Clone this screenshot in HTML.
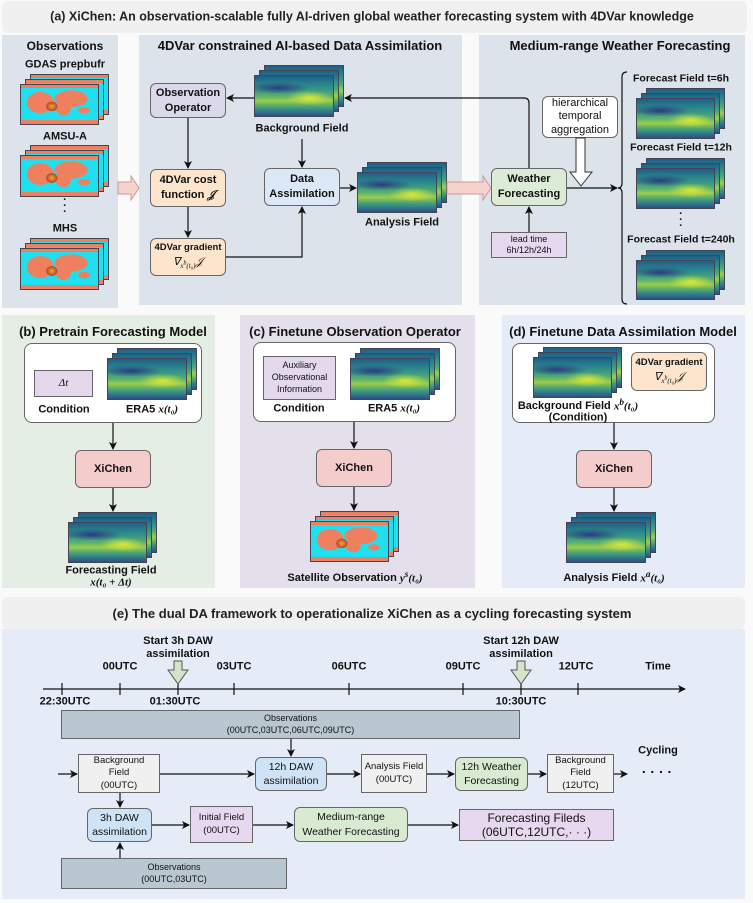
<!DOCTYPE html>
<html><head><meta charset="utf-8">
<style>
*{margin:0;padding:0;box-sizing:border-box}
body{width:753px;height:903px;background:#fafafa;position:relative;overflow:hidden;font-family:"Liberation Sans",Arial,sans-serif;color:#111}
.a{position:absolute}
.pn{position:absolute;background:#dde3ea}
.t{position:absolute;transform:translate(-50%,-50%);white-space:nowrap;font-weight:bold;text-align:center;line-height:1.2}
.bx{position:absolute;display:flex;align-items:center;justify-content:center;text-align:center;border:1px solid #666;border-radius:6px;font-weight:bold;font-size:11px;line-height:1.35}
.map{position:absolute}
.map span{position:absolute;border:1px solid #445;background:
radial-gradient(ellipse 30% 18% at 70% 55%,#d8e83a 0,rgba(200,230,60,0) 100%),
radial-gradient(ellipse 40% 15% at 30% 30%,#2a3c80 0,rgba(40,60,130,0) 100%),
linear-gradient(180deg,#1f5f88 0%,#2c8a8c 25%,#57b070 50%,#9ccd4a 62%,#3c9a80 80%,#2a4f8a 100%)}
.map span:nth-child(1){top:0;left:10px;right:0;bottom:10px}
.map span:nth-child(2){top:5px;left:5px;right:5px;bottom:5px}
.map span:nth-child(3){top:10px;left:0;right:10px;bottom:0}
.obs span{background:
radial-gradient(ellipse 12% 20% at 40% 55%,#e0b020 0,#c04030 60%,rgba(0,0,0,0) 62%),
radial-gradient(ellipse 18% 28% at 25% 45%,#ee8060 0,#ee8060 95%,rgba(0,0,0,0) 100%),
radial-gradient(ellipse 22% 22% at 65% 35%,#ee8060 0,#ee8060 95%,rgba(0,0,0,0) 100%),
radial-gradient(ellipse 10% 18% at 55% 60%,#ee8060 0,#ee8060 95%,rgba(0,0,0,0) 100%),
radial-gradient(ellipse 8% 8% at 82% 65%,#ee8060 0,#ee8060 95%,rgba(0,0,0,0) 100%),
linear-gradient(180deg,#ee8060 0 8%,#20e0f0 8% 90%,#ee8060 90%)}
i{font-family:"Liberation Serif",serif}
</style></head><body>

<!-- Section a -->
<div class="a" style="left:2px;top:1px;width:745px;height:32px;background:#f0f0f0;border-radius:6px"></div>
<div class="t" style="left:372px;top:17px;font-size:12.5px;font-weight:bold;color:#222">(a) XiChen: An observation-scalable fully AI-driven global weather forecasting system with 4DVar knowledge</div>
<div class="pn" style="left:2px;top:35px;width:116px;height:273px"></div>
<div class="pn" style="left:139px;top:35px;width:323px;height:270px"></div>
<div class="pn" style="left:479px;top:35px;width:266px;height:270px"></div>
<div class="t" style="left:65px;top:46px;font-size:12px">Observations</div>
<div class="t" style="left:300px;top:46px;font-size:13px">4DVar constrained AI-based Data Assimilation</div>
<div class="t" style="left:620px;top:46px;font-size:13px">Medium-range Weather Forecasting</div>
<div class="t" style="left:65px;top:65px;font-size:11px">GDAS prepbufr</div>
<div class="map obs" style="left:20px;top:74px;width:89px;height:51px"><span></span><span></span><span></span></div>
<div class="t" style="left:65px;top:137px;font-size:11px">AMSU-A</div>
<div class="map obs" style="left:20px;top:145px;width:89px;height:52px"><span></span><span></span><span></span></div>
<div class="t" style="left:65px;top:206px;font-size:11px;line-height:6px">·<br>·<br>·</div>
<div class="t" style="left:65px;top:229px;font-size:11px">MHS</div>
<div class="map obs" style="left:20px;top:238px;width:89px;height:52px"><span></span><span></span><span></span></div>

<div class="bx" style="left:150px;top:83px;width:76px;height:35px;background:#dcd8ec"><div>Observation<br>Operator</div></div>
<div class="map" style="left:254px;top:65px;width:90px;height:52px"><span></span><span></span><span></span></div>
<div class="t" style="left:302px;top:129px;font-size:11px">Background Field</div>
<div class="bx" style="left:150px;top:169px;width:76px;height:38px;background:#fde4cc"><div>4DVar cost<br>function <i>𝒥</i></div></div>
<div class="bx" style="left:264px;top:168px;width:76px;height:38px;background:#dce8f8"><div>Data<br>Assimilation</div></div>
<div class="bx" style="left:150px;top:238px;width:76px;height:38px;background:#fde4cc;font-size:9.5px;white-space:nowrap"><div>4DVar gradient<br><i style="font-weight:normal;font-size:11px">∇<sub style="font-size:7px">x<sup>b</sup>(t₀)</sub>𝒥</i></div></div>
<div class="map" style="left:357px;top:162px;width:90px;height:51px"><span></span><span></span><span></span></div>
<div class="t" style="left:402px;top:223px;font-size:11px">Analysis Field</div>
<div class="bx" style="left:491px;top:168px;width:76px;height:38px;background:#dcebd6"><div>Weather<br>Forecasting</div></div>
<div class="bx" style="left:491px;top:232px;width:76px;height:26px;background:#e6d8ee;border-radius:0;font-weight:normal;font-size:9px;line-height:1.25"><div>lead time<br>6h/12h/24h</div></div>
<div class="bx" style="left:542px;top:96px;width:76px;height:42px;background:#fff;font-weight:normal;font-size:11px;line-height:1.2"><div>hierarchical<br>temporal<br>aggregation</div></div>
<div class="t" style="left:681px;top:79px;font-size:10.5px">Forecast Field t=6h</div>
<div class="map" style="left:636px;top:88px;width:89px;height:51px"><span></span><span></span><span></span></div>
<div class="t" style="left:681px;top:148px;font-size:10.5px">Forecast Field t=12h</div>
<div class="map" style="left:636px;top:158px;width:89px;height:51px"><span></span><span></span><span></span></div>
<div class="t" style="left:681px;top:220px;font-size:11px;line-height:6px">·<br>·<br>·</div>
<div class="t" style="left:681px;top:240px;font-size:10.5px">Forecast Field t=240h</div>
<div class="map" style="left:636px;top:250px;width:89px;height:50px"><span></span><span></span><span></span></div>

<!-- Section b,c,d -->
<div class="pn" style="left:2px;top:315px;width:213px;height:273px;background:#e5eee4"></div>
<div class="pn" style="left:240px;top:315px;width:235px;height:273px;background:#e3e0ec"></div>
<div class="pn" style="left:502px;top:315px;width:243px;height:273px;background:#e6ecf7"></div>
<div class="t" style="left:113px;top:332px;font-size:13px">(b) Pretrain Forecasting Model</div>
<div class="t" style="left:355px;top:332px;font-size:13px">(c) Finetune Observation Operator</div>
<div class="t" style="left:623px;top:332px;font-size:13px">(d) Finetune Data Assimilation Model</div>

<div class="bx" style="left:24px;top:343px;width:178px;height:80px;background:#fff;border-radius:8px"></div>
<div class="bx" style="left:34px;top:370px;width:59px;height:27px;background:#e3d8ec;border-radius:0;font-weight:normal"><i>Δt</i></div>
<div class="t" style="left:64px;top:410px;font-size:11px">Condition</div>
<div class="map" style="left:107px;top:348px;width:90px;height:52px"><span></span><span></span><span></span></div>
<div class="t" style="left:152px;top:410px;font-size:11px">ERA5 <i>x(t₀)</i></div>
<div class="bx" style="left:75px;top:450px;width:76px;height:38px;background:#f5cccc">XiChen</div>
<div class="map" style="left:68px;top:512px;width:89px;height:51px"><span></span><span></span><span></span></div>
<div class="t" style="left:111px;top:571px;font-size:11px">Forecasting Field</div>
<div class="t" style="left:111px;top:583px;font-size:11px"><i>x(t₀ + Δt)</i></div>

<div class="bx" style="left:253px;top:342px;width:203px;height:80px;background:#fff;border-radius:8px"></div>
<div class="bx" style="left:263px;top:356px;width:73px;height:44px;background:#e3d8ec;border-radius:0;font-weight:normal;font-size:9px;line-height:1.3"><div>Auxiliary<br>Observational<br>Information</div></div>
<div class="t" style="left:299px;top:409px;font-size:11px">Condition</div>
<div class="map" style="left:350px;top:348px;width:90px;height:52px"><span></span><span></span><span></span></div>
<div class="t" style="left:394px;top:409px;font-size:11px">ERA5 <i>x(t₀)</i></div>
<div class="bx" style="left:316px;top:449px;width:76px;height:38px;background:#f5cccc">XiChen</div>
<div class="map obs" style="left:310px;top:511px;width:89px;height:51px"><span></span><span></span><span></span></div>
<div class="t" style="left:355px;top:577px;font-size:11px">Satellite Observation <i>y<sup>s</sup>(t₀)</i></div>

<div class="bx" style="left:512px;top:343px;width:203px;height:80px;background:#fff;border-radius:8px"></div>
<div class="map" style="left:533px;top:347px;width:89px;height:51px"><span></span><span></span><span></span></div>
<div class="bx" style="left:631px;top:352px;width:76px;height:39px;background:#fde4cc;font-size:9.5px;white-space:nowrap"><div>4DVar gradient<br><i style="font-weight:normal;font-size:11px">∇<sub style="font-size:7px">x<sup>b</sup>(t₀)</sub>𝒥</i></div></div>
<div class="t" style="left:578px;top:405px;font-size:11px">Background Field <i>x<sup>b</sup>(t₀)</i></div>
<div class="t" style="left:578px;top:418px;font-size:11px">(Condition)</div>
<div class="bx" style="left:576px;top:450px;width:76px;height:38px;background:#f5cccc">XiChen</div>
<div class="map" style="left:566px;top:512px;width:90px;height:51px"><span></span><span></span><span></span></div>
<div class="t" style="left:614px;top:577px;font-size:11px">Analysis Field <i>x<sup>a</sup>(t₀)</i></div>

<!-- Section e -->
<div class="a" style="left:2px;top:597px;width:743px;height:32px;background:#f0f0f0;border-radius:6px"></div>
<div class="t" style="left:372px;top:614px;font-size:13px;color:#222">(e) The dual DA framework to operationalize XiChen as a cycling forecasting system</div>
<div class="pn" style="left:2px;top:629px;width:743px;height:270px;background:#e6ecf7"></div>
<div class="t" style="left:178px;top:648px;font-size:11px">Start 3h DAW<br>assimilation</div>
<div class="t" style="left:521px;top:648px;font-size:11px">Start 12h DAW<br>assimilation</div>
<div class="t" style="left:120px;top:667px;font-size:11px">00UTC</div>
<div class="t" style="left:234px;top:667px;font-size:11px">03UTC</div>
<div class="t" style="left:349px;top:667px;font-size:11px">06UTC</div>
<div class="t" style="left:463px;top:667px;font-size:11px">09UTC</div>
<div class="t" style="left:576px;top:667px;font-size:11px">12UTC</div>
<div class="t" style="left:658px;top:667px;font-size:11px">Time</div>
<div class="t" style="left:65px;top:702px;font-size:11px">22:30UTC</div>
<div class="t" style="left:175px;top:702px;font-size:11px">01:30UTC</div>
<div class="t" style="left:521px;top:702px;font-size:11px">10:30UTC</div>
<div class="bx" style="left:61px;top:710px;width:459px;height:29px;background:#b9c7d1;border-radius:0;font-weight:normal;font-size:9px;line-height:1.3"><div>Observations<br>(00UTC,03UTC,06UTC,09UTC)</div></div>
<div class="bx" style="left:78px;top:754px;width:82px;height:39px;background:#f0f0f0;border-radius:0;font-weight:normal;font-size:9.5px;line-height:1.3"><div>Background<br>Field<br>(00UTC)</div></div>
<div class="bx" style="left:255px;top:757px;width:72px;height:34px;background:#cfe3f7;font-weight:normal;font-size:10.5px"><div>12h DAW<br>assimilation</div></div>
<div class="bx" style="left:361px;top:754px;width:66px;height:39px;background:#f0f0f0;border-radius:0;font-weight:normal;font-size:9.5px;line-height:1.3"><div>Analysis Field<br>(00UTC)</div></div>
<div class="bx" style="left:455px;top:757px;width:73px;height:34px;background:#d8ebd2;font-weight:normal;font-size:10.5px"><div>12h Weather<br>Forecasting</div></div>
<div class="bx" style="left:547px;top:754px;width:67px;height:39px;background:#f0f0f0;border-radius:0;font-weight:normal;font-size:9.5px;line-height:1.3"><div>Background<br>Field<br>(12UTC)</div></div>
<div class="t" style="left:658px;top:751px;font-size:11px">Cycling</div>
<div class="t" style="left:657px;top:772px;font-size:14px">· · · ·</div>
<div class="bx" style="left:87px;top:808px;width:65px;height:34px;background:#cfe3f7;font-weight:normal;font-size:10.5px"><div>3h DAW<br>assimilation</div></div>
<div class="bx" style="left:190px;top:806px;width:63px;height:37px;background:#e6d8ee;border-radius:0;font-weight:normal;font-size:9.5px;line-height:1.3"><div>Initial Field<br>(00UTC)</div></div>
<div class="bx" style="left:294px;top:807px;width:114px;height:35px;background:#d8ebd2;font-weight:normal;font-size:10.5px"><div>Medium-range<br>Weather Forecasting</div></div>
<div class="bx" style="left:459px;top:809px;width:155px;height:32px;background:#e6d8ee;border-radius:0;font-weight:normal;font-size:12px;line-height:1.2"><div>Forecasting Fileds<br>(06UTC,12UTC,· · ·)</div></div>
<div class="bx" style="left:61px;top:858px;width:226px;height:31px;background:#b9c7d1;border-radius:0;font-weight:normal;font-size:9px;line-height:1.3"><div>Observations<br>(00UTC,03UTC)</div></div>

<svg class="a" style="left:0;top:0" width="753" height="903" viewBox="0 0 753 903">
<defs><marker id="ar" markerWidth="8" markerHeight="8" refX="7" refY="4" orient="auto" markerUnits="userSpaceOnUse"><path d="M0,0 L8,4 L0,8 L2,4z" fill="#111"/></marker></defs>
<g stroke="#111" stroke-width="1.2" fill="none" marker-end="url(#ar)">
<path d="M254,98 H227"/>
<path d="M188,118 V168"/>
<path d="M188,207 V237"/>
<path d="M226,257 H302 V207"/>
<path d="M302,139 V167"/>
<path d="M340,188 H356"/>
<path d="M529,168 V103 Q529,98 524,98 H345"/>
<path d="M529,232 V207"/>
<path d="M567,188 H617"/>
<path d="M113,423 V449"/><path d="M113,488 V511"/>
<path d="M354,422 V448"/><path d="M354,487 V510"/>
<path d="M614,423 V449"/><path d="M614,488 V511"/>
<path d="M43,689 H685"/>
<path d="M291,739 V756"/>
<path d="M58,774 H77"/><path d="M160,774 H254"/><path d="M327,774 H360"/><path d="M427,774 H454"/><path d="M528,774 H546"/><path d="M614,774 H627"/>
<path d="M120,793 V807"/>
<path d="M152,825 H189"/><path d="M253,825 H293"/><path d="M408,825 H458"/>
<path d="M120,858 V843"/>
</g>
<path d="M627,72 Q622,72 622,77 V183 Q622,188 618,188 Q622,188 622,193 V299 Q622,304 627,304" stroke="#111" stroke-width="1.2" fill="none"/>
<g stroke="#111" stroke-width="1.2">
<path d="M62,683V695M120,683V695M178,683V695M234,683V695M349,683V695M463,683V695M521,683V695M578,683V695"/>
</g>
<path d="M576,138 H585 V172 H592 L581,186 L570,172 H576Z" fill="#fff" stroke="#333"/>
<path d="M118,182 H131 V176 L139,188 L131,200 V194 H118Z" fill="#f6d2cc" stroke="#c99"/>
<path d="M447,182 H483 V176 L491,188 L483,200 V194 H447Z" fill="#f6d2cc" stroke="#c99"/>
<path d="M174,661 H182 V670 H188 L178,684 L168,670 H174Z" fill="#d4e4c8" stroke="#555"/>
<path d="M517,661 H525 V670 H531 L521,684 L511,670 H517Z" fill="#d4e4c8" stroke="#555"/>
</svg>
</body></html>
